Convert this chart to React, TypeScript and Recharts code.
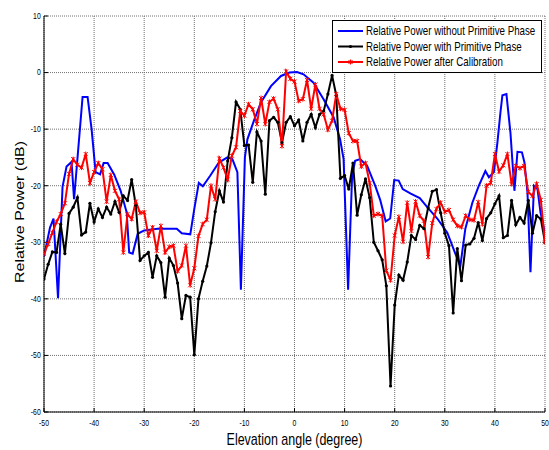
import React from 'react';
import { LineChart, Line, XAxis, YAxis, CartesianGrid, Legend, Label } from 'recharts';

const xTicks = [-50, -40, -30, -20, -10, 0, 10, 20, 30, 40, 50];
const yTicks = [-60, -50, -40, -30, -20, -10, 0, 10];

const seriesNames = [
  'Relative Power without Primitive Phase',
  'Relative Power with Primitive Phase',
  'Relative Power after Calibration',
];
const seriesColors = ['#0000FF', '#000000', '#FF0000'];

// blue curve (ideal pattern, without primitive phase)
const idealAngles = [
  -50, -48.8, -48.1, -47.2, -46.3, -45.5, -44.5, -44.0, -42.3, -41.3, -40.5, -39.7, -38.8, -38.1, -37.3, -36,
  -34.7, -33.5, -33, -32.3, -31.3, -30, -27.3, -23.5, -22.5, -20.8, -20, -19.1, -18.3, -16.8, -15.1, -13.4,
  -12.4, -11.4, -10.7, -9.9, -9.4, -8.1, -6.7, -4.7, -2.7, -1, 0.5, 1.8, 3.8, 5.8, 7.8, 9.1, 9.8, 10.7, 11.5,
  12.1, 13.1, 14.5, 16.1, 17.1, 18.2, 19.1, 19.9, 20.8, 21.6, 23.2, 25, 26.5, 28.5, 30.5, 32.1, 33.1, 34.1,
  35.5, 36.8, 38.1, 38.8, 39.8, 40.5, 41.1, 41.5, 42.3, 43.1, 43.9, 44.5, 45.4, 45.9, 46.5, 47.1, 47.8, 48.5,
  49.1, 50,
];
const idealValues = [
  -32.5, -27.4, -25.8, -39.9, -20.2, -16.6, -15.8, -22.4, -4.3, -4.3, -10, -17.6, -18, -16, -16, -18,
  -20.9, -24.7, -31.8, -32, -28.5, -27.9, -27.6, -27.6, -28.4, -28.6, -24.1, -19.5, -20.1, -18.2, -15.9, -15,
  -15.3, -17.6, -38.4, -15, -11.8, -8.5, -5.3, -2.4, -0.6, 0, 0.1, -0.3, -1.8, -4.7, -7.9, -11.8, -15.3, -38.4, -18.2,
  -15.6, -15.3, -16.5, -20, -22.5, -26.3, -25.8, -19, -19.1, -20.6, -21.4, -22.2, -23.8, -25.8, -28.3, -32, -34.2, -27.6,
  -23, -20, -17.4, -18.5, -17.6, -12.4, -7.1, -4, -3.8, -10.6, -20.9, -14, -14.1, -15.9, -21.2, -35.3, -20, -20.6,
  -24.7, -28.5,
];

// measured sample angles (black and red series)
const sampleAngles = [
  -50, -49.17, -48.33, -47.5, -46.67, -45.83, -45, -44.17, -43.33, -42.5, -41.67, -40.83,
  -40, -39.17, -38.33, -37.5, -36.67, -35.83, -35, -34.17, -33.33, -32.5, -31.67, -30.83,
  -30, -29.17, -28.33, -27.5, -26.67, -25.83, -25, -24.17, -23.33, -22.5, -21.67, -20.83,
  -20, -19.17, -18.33, -17.5, -16.67, -15.83, -15, -14.17, -13.33, -12.5, -11.67, -10.83,
  -10, -9.17, -8.33, -7.5, -6.67, -5.83, -5, -4.17, -3.33, -2.5, -1.67, -0.83,
  0, 0.83, 1.67, 2.5, 3.33, 4.17, 5, 5.83, 6.67, 7.5, 8.33, 9.17,
  10, 10.83, 11.67, 12.5, 13.33, 14.17, 15, 15.83, 16.67, 17.5, 18.33, 19.17,
  20, 20.83, 21.67, 22.5, 23.33, 24.17, 25, 25.83, 26.67, 27.5, 28.33, 29.17,
  30, 30.83, 31.67, 32.5, 33.33, 34.17, 35, 35.83, 36.67, 37.5, 38.33, 39.17,
  40, 40.83, 41.67, 42.5, 43.33, 44.17, 45, 45.83, 46.67, 47.5, 48.33, 49.17,
  50,
];

const primitiveValues = [
  -36.5, -33.9, -31.7, -31.8, -26.8, -32.0, -24.9, -23.8, -22.1, -28.7, -28.2, -23.1,
  -26.4, -24.1, -25.6, -23.8, -25.0, -22.8, -24.7, -21.8, -22.6, -18.9, -23.5, -33.2,
  -32.4, -31.8, -36.2, -32.4, -33.6, -39.7, -32.8, -34.1, -37.2, -43.5, -39.4, -39.7,
  -49.9, -40.0, -36.9, -34.2, -30.1, -24.6, -20.9, -22.9, -15.6, -11.5, -5.2, -6.5,
  -12.9, -12.8, -19.4, -10.5, -12.1, -21.5, -8.5, -7.9, -8.8, -12.4, -8.8, -7.8,
  -9.4, -8.4, -12.1, -8.8, -7.4, -9.7, -7.4, -6.8, -3.8, -0.5, -4.0, -18.7,
  -18.2, -20.6, -16.0, -25.2, -21.6, -18.8, -22.1, -30.0, -31.5, -33.1, -37.7, -55.4,
  -41.1, -35.8, -36.7, -33.5, -28.8, -29.5, -27.0, -27.6, -23.9, -21.0, -20.7, -24.8,
  -28.4, -30.6, -42.5, -31.1, -36.8, -30.5, -30.3, -29.3, -26.5, -29.7, -25.8, -24.8,
  -23.2, -21.8, -29.2, -28.8, -22.6, -26.9, -25.6, -26.6, -22.6, -28.4, -25.3, -25.9,
  -30.0,
];

const calibratedValues = [
  -32.0, -30.3, -28.3, -26.4, -25.0, -23.1, -17.9, -15.3, -16.3, -16.8, -14.4, -19.5,
  -17.6, -16.0, -17.1, -22.8, -18.1, -20.9, -22.4, -31.8, -25.0, -25.9, -22.8, -24.8,
  -24.7, -28.8, -27.4, -31.5, -27.1, -31.8, -30.8, -30.6, -35.1, -34.1, -30.6, -37.6,
  -34.6, -28.9, -26.8, -26.0, -20.0, -22.4, -15.2, -16.8, -18.9, -14.7, -13.2, -6.8,
  -7.6, -5.6, -6.5, -9.1, -4.5, -9.1, -5.2, -4.6, -6.5, -13.0, 0.2, -1.1,
  -1.6, -5.0, -4.7, -1.3, -6.4, -2.1, -6.4, -7.4, -10.1, -8.5, -3.8, -6.4,
  -6.6, -10.7, -12.1, -12.1, -16.6, -16.0, -19.5, -25.3, -25.0, -25.3, -35.0, -36.7,
  -28.8, -25.5, -29.9, -23.0, -28.0, -22.8, -25.3, -26.2, -32.6, -26.6, -24.1, -23.0,
  -24.6, -24.3, -26.0, -27.1, -27.3, -25.3, -26.0, -26.1, -22.9, -26.8, -20.0, -19.5,
  -14.4, -17.5, -16.4, -14.4, -19.7, -16.5, -16.9, -16.5, -21.1, -21.8, -19.7, -22.5,
  -30.0,
];

const idealData = idealAngles.map((x, i) => ({ x, y: idealValues[i] }));
const primitiveData = sampleAngles.map((x, i) => ({ x, y: primitiveValues[i] }));
const calibratedData = sampleAngles.map((x, i) => ({ x, y: calibratedValues[i] }));

const FONT = '"Liberation Sans", Arial, Helvetica, sans-serif';
const SQUEEZE = 0.78;

const XTick = (props: any) => {
  const { x, y, payload } = props;
  return (
    <g transform={`translate(${x},${y})`}>
      <text transform={`scale(${SQUEEZE},1)`} textAnchor="middle" y={14.5} fontSize={8.8} fontFamily={FONT} fill="#000">
        {payload.value}
      </text>
    </g>
  );
};

const YTick = (props: any) => {
  const { x, y, payload } = props;
  return (
    <g transform={`translate(${x - 3.3},${y})`}>
      <text transform={`scale(${SQUEEZE},1)`} textAnchor="end" y={2.9} fontSize={8.8} fontFamily={FONT} fill="#000">
        {payload.value}
      </text>
    </g>
  );
};

const NoTick = () => <g />;

const XLabel = (props: any) => {
  const vb = props.viewBox || { x: 44, y: 412, width: 501, height: 38 };
  const cx = vb.x + vb.width / 2;
  return (
    <g transform={`translate(${cx},${vb.y + 33}) scale(${SQUEEZE},1)`}>
      <text textAnchor="middle" fontSize={16} fontFamily={FONT} fill="#000">
        Elevation angle (degree)
      </text>
    </g>
  );
};

const YLabel = (props: any) => {
  const vb = props.viewBox || { x: 0, y: 16, width: 44, height: 396 };
  const cy = vb.y + vb.height / 2 - 2;
  return (
    <g transform={`translate(23.5,${cy}) scale(${SQUEEZE},1) rotate(-90)`}>
      <text textAnchor="middle" fontSize={16} fontFamily={FONT} fill="#000">
        Relative Power (dB)
      </text>
    </g>
  );
};

const starPath = (cx: number, cy: number, s: number) =>
  `M${cx - s},${cy - s}L${cx + s},${cy + s}M${cx - s},${cy + s}L${cx + s},${cy - s}M${cx},${cy - s - 0.5}L${cx},${cy + s + 0.5}`;

const BlackDot = (props: any) => {
  const { cx, cy, index } = props;
  if (cx == null || cy == null) return <g key={`bd-${index}`} />;
  return <circle key={`bd-${index}`} cx={cx} cy={cy} r={1.6} fill="#000" stroke="none" />;
};

const RedDot = (props: any) => {
  const { cx, cy, index } = props;
  if (cx == null || cy == null) return <g key={`rd-${index}`} />;
  return <path key={`rd-${index}`} d={starPath(cx, cy, 2)} stroke="#FF0000" strokeWidth={1} fill="none" />;
};

const LegendBox = () => (
  <svg width={210} height={53} style={{ display: 'block' }}>
    <rect x={0.5} y={0.5} width={209} height={52} fill="#fff" stroke="#000" strokeWidth={1} />
    {seriesNames.map((name, i) => {
      const cy = 11 + i * 15.5;
      return (
        <g key={name}>
          <line x1={6} x2={31} y1={cy} y2={cy} stroke={seriesColors[i]} strokeWidth={2} />
          {i === 1 && <circle cx={18.5} cy={cy} r={1.6} fill="#000" />}
          {i === 2 && <path d={starPath(18.5, cy, 2)} stroke="#FF0000" strokeWidth={1} fill="none" />}
          <g transform={`translate(34,${cy + 4.4}) scale(${SQUEEZE},1)`}>
            <text fontSize={12.5} fontFamily={FONT} fill="#000">
              {name}
            </text>
          </g>
        </g>
      );
    })}
  </svg>
);

export default function App() {
  return (
    <div style={{ position: 'absolute', left: 0, top: 0, width: 549, height: 450, background: '#fff' }}>
      <LineChart width={549} height={450} margin={{ top: 16, right: 4, bottom: 0, left: 0 }}>
        <CartesianGrid stroke="#707070" strokeDasharray="1 1" strokeWidth={1} />
        <XAxis
          type="number"
          dataKey="x"
          domain={[-50, 50]}
          ticks={xTicks}
          interval={0}
          allowDataOverflow
          height={38}
          stroke="#000"
          tickSize={-4}
          tickMargin={4}
          tick={<XTick />}
        >
          <Label content={<XLabel />} />
        </XAxis>
        <XAxis
          xAxisId="top"
          orientation="top"
          type="number"
          dataKey="x"
          domain={[-50, 50]}
          ticks={xTicks}
          interval={0}
          allowDataOverflow
          height={0}
          stroke="#000"
          tickSize={-4}
          tick={<NoTick />}
        />
        <YAxis
          type="number"
          domain={[-60, 10]}
          ticks={yTicks}
          interval={0}
          allowDataOverflow
          width={44}
          stroke="#000"
          tickSize={-4}
          tickMargin={4}
          tick={<YTick />}
        >
          <Label content={<YLabel />} />
        </YAxis>
        <YAxis
          yAxisId="right"
          orientation="right"
          type="number"
          domain={[-60, 10]}
          ticks={yTicks}
          interval={0}
          allowDataOverflow
          width={0}
          stroke="#000"
          tickSize={-4}
          tick={<NoTick />}
        />
        <Line
          data={idealData}
          dataKey="y"
          name={seriesNames[0]}
          type="linear"
          stroke={seriesColors[0]}
          strokeWidth={2}
          dot={false}
          activeDot={false}
          isAnimationActive={false}
        />
        <Line
          data={primitiveData}
          dataKey="y"
          name={seriesNames[1]}
          type="linear"
          stroke={seriesColors[1]}
          strokeWidth={2}
          dot={BlackDot}
          activeDot={false}
          isAnimationActive={false}
        />
        <Line
          data={calibratedData}
          dataKey="y"
          name={seriesNames[2]}
          type="linear"
          stroke={seriesColors[2]}
          strokeWidth={2}
          dot={RedDot}
          activeDot={false}
          isAnimationActive={false}
        />
        <Legend
          content={<LegendBox />}
          layout="vertical"
          align="center"
          verticalAlign="middle"
          wrapperStyle={{ position: 'absolute', left: 332, top: 20, width: 210, height: 53 }}
        />
      </LineChart>
    </div>
  );
}
